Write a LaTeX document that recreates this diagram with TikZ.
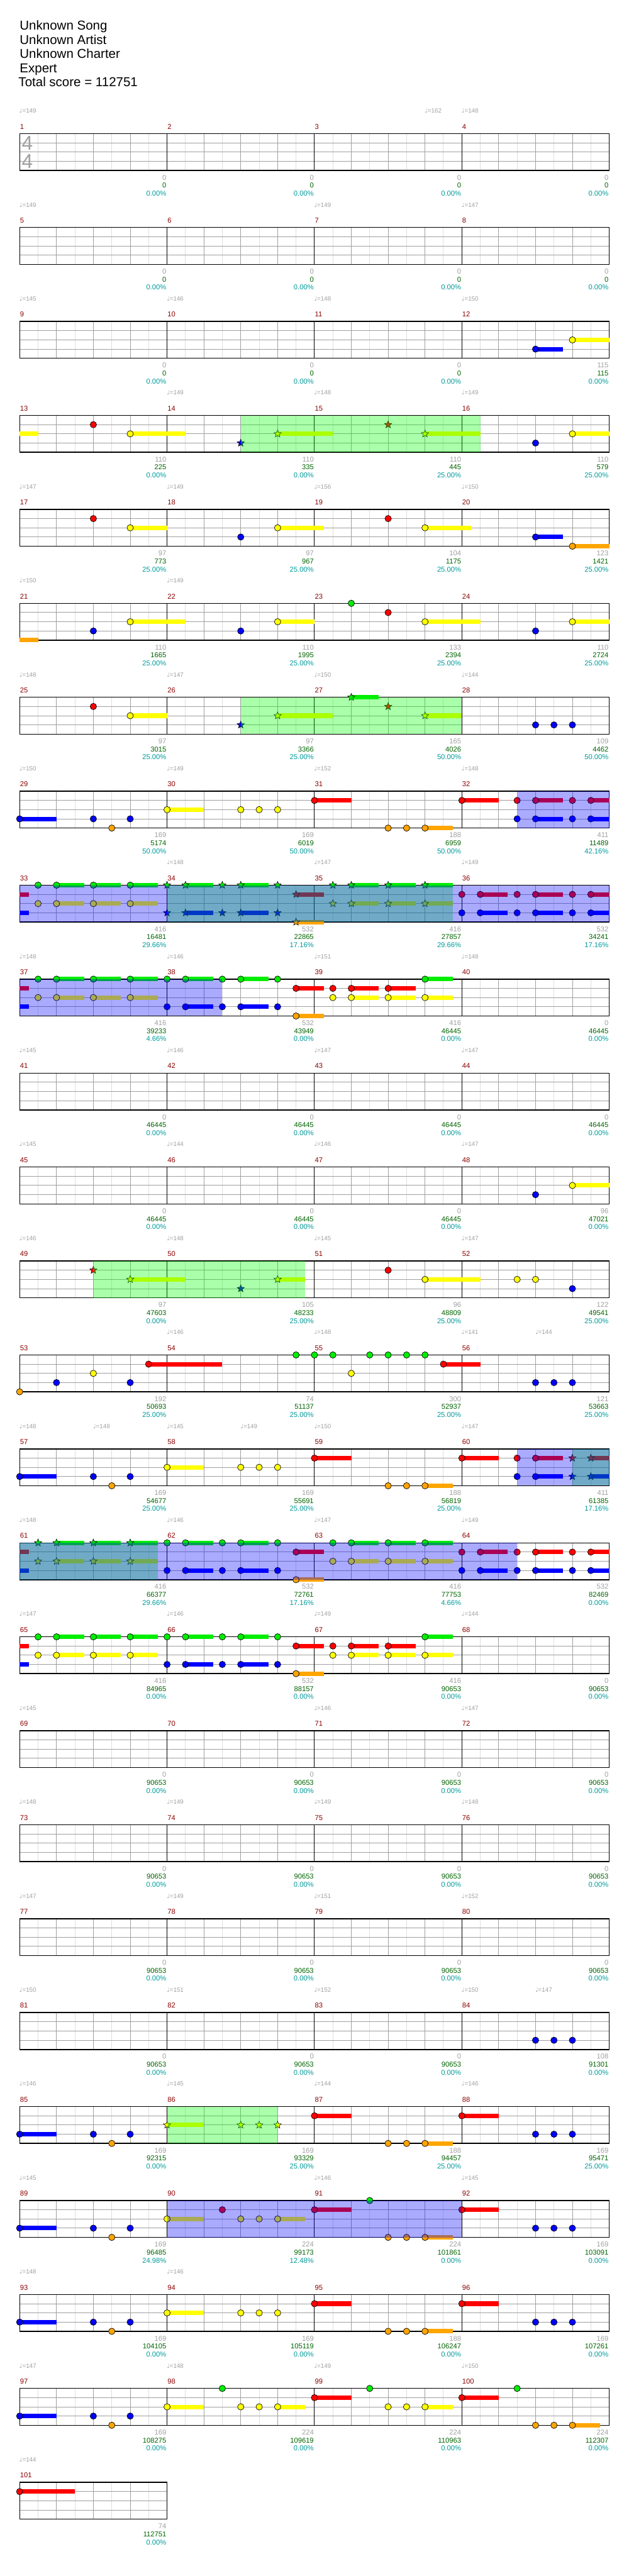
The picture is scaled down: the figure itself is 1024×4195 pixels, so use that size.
\documentclass[tikz,border=0pt]{standalone}
\usepackage{fontspec}
\setmainfont{Liberation Sans}
\newfontfamily\notefont{DejaVu Sans}
\usepackage{xcolor}
\definecolor{barred}{HTML}{8B0000}
\definecolor{basegray}{HTML}{A0A0A0}
\definecolor{totalgreen}{HTML}{006400}
\definecolor{ratioteal}{HTML}{009B9B}
\definecolor{laneline}{HTML}{A0A0A0}
\definecolor{halfline}{HTML}{DEDEDE}
\definecolor{gG}{HTML}{00EE00}
\definecolor{gR}{HTML}{FF0000}
\definecolor{gY}{HTML}{FFFF00}
\definecolor{gB}{HTML}{0000FF}
\definecolor{gO}{HTML}{FFA500}
\definecolor{spfill}{HTML}{00FF00}
\definecolor{solofill}{HTML}{0000FF}
\usepackage{tikz}
\usetikzlibrary{shapes.geometric}
\newcounter{gemno}
\newcommand{\staff}[2]{%
  \pgfmathtruncatemacro\nhalf{8*#2}%
  \pgfmathtruncatemacro\nbeat{4*#2}%
  \begin{scope}[shift={(0,{217.5+153*#1})}]
    \foreach \i in {1,...,\nhalf} \draw[halfbeat] ({32+30*\i},0) -- ++(0,60);
    \foreach \i in {1,...,\nbeat} \draw[fullbeat] ({32+60*\i},0) -- ++(0,60);
    \foreach \j in {15,30,45} \draw[fullbeat] (32,\j) -- ({32+240*#2},\j);
    \foreach \i in {1,...,#2} \draw[barline] ({32+240*\i},0) -- ++(0,60);
    \draw[staffedge] (32,0) rectangle ({32+240*#2},60);
  \end{scope}}
\newcommand{\gem}[4]{\filldraw[gem, fill=#4] ({32+60*#2},{217.5+153*#1+15*#3}) circle (5.2pt);}
\newcommand{\gems}[4]{\foreach \x in {#4}{\gem{#1}{\x}{#2}{#3}}}
\newcommand{\spgems}[4]{\foreach \x in {#4}{\stepcounter{gemno}%
  \node[stargem, fill=#3] (star\arabic{gemno}) at ({32+60*\x},{217.5+153*#1+15*#2}) {};}}
\newcommand{\tails}[4]{\foreach \from/\upto in {#4}{%
  \fill[#3] ({32+60*\from},{213.9+153*#1+15*#2}) rectangle ({32+60*\upto},{221.1+153*#1+15*#2});}}
\newcommand{\spzone}[3]{\fill[spfill, fill opacity=0.333] ({32+60*#2},{217.5+153*#1}) rectangle ({32+60*#3},{277.5+153*#1});}
\newcommand{\solozone}[3]{\fill[solofill, fill opacity=0.333] ({32+60*#2},{217.5+153*#1}) rectangle ({32+60*#3},{277.5+153*#1});}
\newcommand{\bpm}[3]{\node[tempo] (bpm#1-#2) at ({31.5+60*#2},{184+153*#1}) {{\notefont ♩}=#3};}
\newcommand{\barinfo}[5]{%
  \pgfmathtruncatemacro\barno{4*#1+#2+1}%
  \node[barnum] (bar\barno) at ({32.5+240*#2},{210+153*#1}) {\barno};
  \node[basescore] (bar\barno-base) at ({271+240*#2},{293+153*#1}) {#3};
  \node[totalscore] (bar\barno-total) at ({271+240*#2},{306+153*#1}) {#4};
  \node[spratio] (bar\barno-ratio) at ({271+240*#2},{319+153*#1}) {#5\%};}
\newcommand{\barrow}[2]{\foreach \bs/\tot/\pc [count=\s from 0] in {#2}{\barinfo{#1}{\s}{\bs}{\tot}{\pc}}}

\begin{document}
\begin{tikzpicture}[x=1pt, y=-1pt,
  halfbeat/.style={draw=halfline, line width=1pt},
  fullbeat/.style={draw=laneline, line width=1pt},
  barline/.style={draw=black, line width=0.9pt},
  staffedge/.style={draw=black, line width=1.5pt},
  gem/.style={draw=black, line width=0.7pt},
  stargem/.style={star, star points=5, star point ratio=2.3, minimum size=12.5pt, inner sep=0pt, draw=black, line width=0.6pt},
  smalltext/.style={inner sep=0pt, font=\fontsize{11.5}{13}\selectfont},
  barnum/.style={smalltext, anchor=base west, text=barred},
  basescore/.style={smalltext, anchor=base east, text=basegray},
  totalscore/.style={smalltext, anchor=base east, text=totalgreen},
  spratio/.style={smalltext, anchor=base east, text=ratioteal},
  tempo/.style={anchor=base west, inner sep=0pt, text=basegray, font=\fontsize{10}{12}\selectfont},
  header/.style={anchor=base west, inner sep=0pt, font=\fontsize{21}{24}\selectfont},
  timesig/.style={inner sep=0pt, text=basegray, font=\fontsize{32.5}{34}\selectfont}]
  \useasboundingbox[fill=white] (0,0) rectangle (1024,4195);

  \node[header] (song) at (32,49) {Unknown Song};
  \node[header] (artist) at (32,72) {Unknown Artist};
  \node[header] (charter) at (32,95) {Unknown Charter};
  \node[header] (level) at (32,118) {Expert};
  \node[header] (total) at (30,141) {Total score = 112751};

  \staff{0}{4}
  \node[timesig] (sig-top) at (44.4,233.3) {4};
  \node[timesig] (sig-bottom) at (44.4,262.3) {4};
  \bpm{0}{0}{149} \bpm{0}{11}{162} \bpm{0}{12}{148}
  \barrow{0}{0/0/0.00, 0/0/0.00, 0/0/0.00, 0/0/0.00}

  \staff{1}{4}
  \bpm{1}{0}{149} \bpm{1}{8}{149} \bpm{1}{12}{147}
  \barrow{1}{0/0/0.00, 0/0/0.00, 0/0/0.00, 0/0/0.00}

  \staff{2}{4}
  \tails{2}{2}{gY}{15/16} \tails{2}{3}{gB}{14/14.75}
  \gems{2}{2}{gY}{15} \gems{2}{3}{gB}{14}
  \bpm{2}{0}{145} \bpm{2}{4}{146} \bpm{2}{8}{148} \bpm{2}{12}{150}
  \barrow{2}{0/0/0.00, 0/0/0.00, 0/0/0.00, 115/115/0.00}

  \staff{3}{4}
  \tails{3}{2}{gY}{0/0.5, 3/4.5, 7/8.5, 11/12.5, 15/16}
  \gems{3}{1}{gR}{2} \gems{3}{2}{gY}{3,15} \gems{3}{3}{gB}{14}
  \spgems{3}{3}{gB}{6} \spgems{3}{2}{gY}{7,11} \spgems{3}{1}{gR}{10}
  \spzone{3}{6}{12.5}
  \bpm{3}{4}{149} \bpm{3}{8}{148} \bpm{3}{12}{149}
  \barrow{3}{110/225/0.00, 110/335/0.00, 110/445/25.00, 110/579/25.00}

  \staff{4}{4}
  \tails{4}{2}{gY}{3/4, 7/8.25, 11/12.25} \tails{4}{3}{gB}{14/14.75} \tails{4}{4}{gO}{15/16}
  \gems{4}{1}{gR}{2,10} \gems{4}{2}{gY}{3,7,11} \gems{4}{3}{gB}{6,14} \gems{4}{4}{gO}{15}
  \bpm{4}{0}{147} \bpm{4}{4}{149} \bpm{4}{8}{156} \bpm{4}{12}{150}
  \barrow{4}{97/773/25.00, 97/967/25.00, 104/1175/25.00, 123/1421/25.00}

  \staff{5}{4}
  \tails{5}{4}{gO}{0/0.5} \tails{5}{2}{gY}{3/4.5, 7/8, 11/12.5, 15/16}
  \gems{5}{0}{gG}{9} \gems{5}{1}{gR}{10} \gems{5}{2}{gY}{3,7,11,15} \gems{5}{3}{gB}{2,6,14}
  \bpm{5}{0}{150} \bpm{5}{4}{149}
  \barrow{5}{110/1665/25.00, 110/1995/25.00, 133/2394/25.00, 110/2724/25.00}

  \staff{6}{4}
  \tails{6}{2}{gY}{3/4, 7/8.5, 11/12} \tails{6}{0}{gG}{9/9.75}
  \gems{6}{1}{gR}{2} \gems{6}{2}{gY}{3} \gems{6}{3}{gB}{14,14.5,15}
  \spgems{6}{3}{gB}{6} \spgems{6}{2}{gY}{7,11} \spgems{6}{0}{gG}{9} \spgems{6}{1}{gR}{10}
  \spzone{6}{6}{12}
  \bpm{6}{0}{148} \bpm{6}{4}{147} \bpm{6}{8}{150} \bpm{6}{12}{144}
  \barrow{6}{97/3015/25.00, 97/3366/25.00, 165/4026/50.00, 109/4462/50.00}

  \staff{7}{4}
  \tails{7}{3}{gB}{0/1, 14/14.75, 15.5/16} \tails{7}{2}{gY}{4/5}
  \tails{7}{1}{gR}{8/9, 12/13, 14/14.75, 15.5/16} \tails{7}{4}{gO}{11/11.75}
  \gems{7}{3}{gB}{0,2,3,13.5,14,15,15.5} \gems{7}{4}{gO}{2.5,10,10.5,11}
  \gems{7}{2}{gY}{4,6,6.5,7} \gems{7}{1}{gR}{8,12,13.5,14,15,15.5}
  \solozone{7}{13.5}{16}
  \bpm{7}{0}{150} \bpm{7}{4}{149} \bpm{7}{8}{152} \bpm{7}{12}{148}
  \barrow{7}{169/5174/50.00, 169/6019/50.00, 188/6959/50.00, 411/11489/42.16}

  \staff{8}{4}
  \tails{8}{1}{gR}{0/0.25, 7.5/8.25, 12.5/13.25, 14/14.75, 15.5/16}
  \tails{8}{3}{gB}{0/0.25, 4.5/5.25, 6/6.75, 12.5/13.25, 14/14.75, 15.5/16}
  \tails{8}{0}{gG}{1/1.75, 2/2.75, 3/3.75, 4.5/5.25, 6/6.75, 9/9.75, 10/10.75, 11/11.75}
  \tails{8}{2}{gY}{1/1.75, 2/2.75, 3/3.75, 9/9.75, 10/10.75, 11/11.75}
  \tails{8}{4}{gO}{7.5/8.25}
  \gems{8}{0}{gG}{0.5,1,2,3} \gems{8}{2}{gY}{0.5,1,2,3}
  \gems{8}{1}{gR}{12,12.5,13.5,14,15,15.5} \gems{8}{3}{gB}{12,12.5,13.5,14,15,15.5}
  \spgems{8}{0}{gG}{4,4.5,5.5,6,7,8.5,9,10,11} \spgems{8}{3}{gB}{4,4.5,5.5,6,7}
  \spgems{8}{1}{gR}{7.5} \spgems{8}{4}{gO}{7.5} \spgems{8}{2}{gY}{8.5,9,10,11}
  \spzone{8}{4}{11.75} \solozone{8}{0}{16}
  \bpm{8}{4}{148} \bpm{8}{8}{147} \bpm{8}{12}{149}
  \barrow{8}{416/16481/29.66, 532/22865/17.16, 416/27857/29.66, 532/34241/17.16}

  \staff{9}{4}
  \tails{9}{1}{gR}{0/0.25, 7.5/8.25, 9/9.75, 10/10.75}
  \tails{9}{3}{gB}{0/0.25, 4.5/5.25, 6/6.75}
  \tails{9}{0}{gG}{1/1.75, 2/2.75, 3/3.75, 4.5/5.25, 6/6.75, 11/11.75}
  \tails{9}{2}{gY}{1/1.75, 2/2.75, 3/3.75, 9/9.75, 10/10.75, 11/11.75}
  \tails{9}{4}{gO}{7.5/8.25}
  \gems{9}{0}{gG}{0.5,1,2,3,4,4.5,5.5,6,7,11} \gems{9}{2}{gY}{0.5,1,2,3,8.5,9,10,11}
  \gems{9}{3}{gB}{4,4.5,5.5,6,7} \gems{9}{1}{gR}{7.5,8.5,9,10} \gems{9}{4}{gO}{7.5}
  \solozone{9}{0}{5.5}
  \bpm{9}{0}{148} \bpm{9}{4}{146} \bpm{9}{8}{151} \bpm{9}{12}{148}
  \barrow{9}{416/39233/4.66, 532/43949/0.00, 416/46445/0.00, 0/46445/0.00}

  \staff{10}{4}
  \bpm{10}{0}{145} \bpm{10}{4}{146} \bpm{10}{8}{147} \bpm{10}{12}{147}
  \barrow{10}{0/46445/0.00, 0/46445/0.00, 0/46445/0.00, 0/46445/0.00}

  \staff{11}{4}
  \tails{11}{2}{gY}{15/16}
  \gems{11}{3}{gB}{14} \gems{11}{2}{gY}{15}
  \bpm{11}{0}{145} \bpm{11}{4}{144} \bpm{11}{8}{146} \bpm{11}{12}{147}
  \barrow{11}{0/46445/0.00, 0/46445/0.00, 0/46445/0.00, 96/47021/0.00}

  \staff{12}{4}
  \tails{12}{2}{gY}{3/4.5, 7/7.75, 11/12.5}
  \spgems{12}{1}{gR}{2} \spgems{12}{2}{gY}{3,7} \spgems{12}{3}{gB}{6}
  \gems{12}{1}{gR}{10} \gems{12}{2}{gY}{11,13.5,14} \gems{12}{3}{gB}{15}
  \spzone{12}{2}{7.75}
  \bpm{12}{0}{146} \bpm{12}{4}{148} \bpm{12}{8}{145} \bpm{12}{12}{147}
  \barrow{12}{97/47603/0.00, 105/48233/25.00, 96/48809/25.00, 122/49541/25.00}

  \staff{13}{4}
  \tails{13}{1}{gR}{3.5/5.5, 11.5/12.5}
  \gems{13}{4}{gO}{0} \gems{13}{3}{gB}{1,3,14,14.5,15} \gems{13}{2}{gY}{2,9}
  \gems{13}{1}{gR}{3.5,11.5} \gems{13}{0}{gG}{7.5,8,8.5,9.5,10,10.5,11}
  \bpm{13}{4}{146} \bpm{13}{8}{148} \bpm{13}{12}{141} \bpm{13}{14}{144}
  \barrow{13}{192/50693/25.00, 74/51137/25.00, 300/52937/25.00, 121/53663/25.00}

  \staff{14}{4}
  \tails{14}{3}{gB}{0/1, 14/14.75, 15.5/16} \tails{14}{2}{gY}{4/5}
  \tails{14}{1}{gR}{8/9, 12/13, 14/14.75, 15.5/16} \tails{14}{4}{gO}{11/11.75}
  \gems{14}{3}{gB}{0,2,3,13.5,14} \gems{14}{4}{gO}{2.5,10,10.5,11}
  \gems{14}{2}{gY}{4,6,6.5,7} \gems{14}{1}{gR}{8,12,13.5,14}
  \spgems{14}{1}{gR}{15,15.5} \spgems{14}{3}{gB}{15,15.5}
  \spzone{14}{15}{16} \solozone{14}{13.5}{16}
  \bpm{14}{0}{148} \bpm{14}{2}{149} \bpm{14}{4}{145} \bpm{14}{6}{149} \bpm{14}{8}{150} \bpm{14}{12}{147}
  \barrow{14}{169/54677/25.00, 169/55691/25.00, 188/56819/25.00, 411/61385/17.16}

  \staff{15}{4}
  \tails{15}{1}{gR}{0/0.25, 7.5/8.25, 12.5/13.25, 14/14.75, 15.5/16}
  \tails{15}{3}{gB}{0/0.25, 4.5/5.25, 6/6.75, 12.5/13.25, 14/14.75, 15.5/16}
  \tails{15}{0}{gG}{1/1.75, 2/2.75, 3/3.75, 4.5/5.25, 6/6.75, 9/9.75, 10/10.75, 11/11.75}
  \tails{15}{2}{gY}{1/1.75, 2/2.75, 3/3.75, 9/9.75, 10/10.75, 11/11.75}
  \tails{15}{4}{gO}{7.5/8.25}
  \spgems{15}{0}{gG}{0.5,1,2,3} \spgems{15}{2}{gY}{0.5,1,2,3}
  \gems{15}{0}{gG}{4,4.5,5.5,6,7,8.5,9,10,11} \gems{15}{3}{gB}{4,4.5,5.5,6,7,12,12.5,13.5,14,15,15.5}
  \gems{15}{1}{gR}{7.5,12,12.5,13.5,14,15,15.5} \gems{15}{4}{gO}{7.5} \gems{15}{2}{gY}{8.5,9,10,11}
  \spzone{15}{0}{3.75} \solozone{15}{0}{13.5}
  \bpm{15}{0}{148} \bpm{15}{4}{146} \bpm{15}{8}{147} \bpm{15}{12}{149}
  \barrow{15}{416/66377/29.66, 532/72761/17.16, 416/77753/4.66, 532/82469/0.00}

  \staff{16}{4}
  \tails{16}{1}{gR}{0/0.25, 7.5/8.25, 9/9.75, 10/10.75}
  \tails{16}{3}{gB}{0/0.25, 4.5/5.25, 6/6.75}
  \tails{16}{0}{gG}{1/1.75, 2/2.75, 3/3.75, 4.5/5.25, 6/6.75, 11/11.75}
  \tails{16}{2}{gY}{1/1.75, 2/2.75, 3/3.75, 9/9.75, 10/10.75, 11/11.75}
  \tails{16}{4}{gO}{7.5/8.25}
  \gems{16}{0}{gG}{0.5,1,2,3,4,4.5,5.5,6,7,11} \gems{16}{2}{gY}{0.5,1,2,3,8.5,9,10,11}
  \gems{16}{3}{gB}{4,4.5,5.5,6,7} \gems{16}{1}{gR}{7.5,8.5,9,10} \gems{16}{4}{gO}{7.5}
  \bpm{16}{0}{147} \bpm{16}{4}{146} \bpm{16}{8}{149} \bpm{16}{12}{144}
  \barrow{16}{416/84965/0.00, 532/88157/0.00, 416/90653/0.00, 0/90653/0.00}

  \staff{17}{4}
  \bpm{17}{0}{145} \bpm{17}{8}{146} \bpm{17}{12}{147}
  \barrow{17}{0/90653/0.00, 0/90653/0.00, 0/90653/0.00, 0/90653/0.00}

  \staff{18}{4}
  \bpm{18}{0}{148} \bpm{18}{4}{149} \bpm{18}{8}{149} \bpm{18}{12}{148}
  \barrow{18}{0/90653/0.00, 0/90653/0.00, 0/90653/0.00, 0/90653/0.00}

  \staff{19}{4}
  \bpm{19}{0}{147} \bpm{19}{4}{149} \bpm{19}{8}{151} \bpm{19}{12}{152}
  \barrow{19}{0/90653/0.00, 0/90653/0.00, 0/90653/0.00, 0/90653/0.00}

  \staff{20}{4}
  \gems{20}{3}{gB}{14,14.5,15}
  \bpm{20}{0}{150} \bpm{20}{4}{151} \bpm{20}{8}{152} \bpm{20}{12}{150} \bpm{20}{14}{147}
  \barrow{20}{0/90653/0.00, 0/90653/0.00, 0/90653/0.00, 108/91301/0.00}

  \staff{21}{4}
  \tails{21}{3}{gB}{0/1} \tails{21}{2}{gY}{4/5} \tails{21}{1}{gR}{8/9, 12/13} \tails{21}{4}{gO}{11/11.75}
  \gems{21}{3}{gB}{0,2,3,14,14.5,15} \gems{21}{4}{gO}{2.5,10,10.5,11} \gems{21}{1}{gR}{8,12}
  \spgems{21}{2}{gY}{4,6,6.5,7}
  \spzone{21}{4}{7}
  \bpm{21}{0}{146} \bpm{21}{4}{145} \bpm{21}{8}{144} \bpm{21}{12}{146}
  \barrow{21}{169/92315/0.00, 169/93329/25.00, 188/94457/25.00, 169/95471/25.00}

  \staff{22}{4}
  \tails{22}{3}{gB}{0/1} \tails{22}{2}{gY}{4/5, 7/7.75} \tails{22}{1}{gR}{8/9, 12/13} \tails{22}{4}{gO}{11/11.75}
  \gems{22}{3}{gB}{0,2,3,14,14.5,15} \gems{22}{4}{gO}{2.5,10,10.5,11} \gems{22}{2}{gY}{4,6,6.5,7}
  \gems{22}{1}{gR}{5.5,8,12} \gems{22}{0}{gG}{9.5}
  \solozone{22}{4}{12}
  \bpm{22}{0}{145} \bpm{22}{8}{146} \bpm{22}{12}{145}
  \barrow{22}{169/96485/24.98, 224/99173/12.48, 224/101861/0.00, 169/103091/0.00}

  \staff{23}{4}
  \tails{23}{3}{gB}{0/1} \tails{23}{2}{gY}{4/5} \tails{23}{1}{gR}{8/9, 12/13} \tails{23}{4}{gO}{11/11.75}
  \gems{23}{3}{gB}{0,2,3,14,14.5,15} \gems{23}{4}{gO}{2.5,10,10.5,11} \gems{23}{2}{gY}{4,6,6.5,7} \gems{23}{1}{gR}{8,12}
  \bpm{23}{0}{148} \bpm{23}{4}{146}
  \barrow{23}{169/104105/0.00, 169/105119/0.00, 188/106247/0.00, 169/107261/0.00}

  \staff{24}{4}
  \tails{24}{3}{gB}{0/1} \tails{24}{2}{gY}{4/5, 7/7.75, 11/11.75} \tails{24}{1}{gR}{8/9, 12/13} \tails{24}{4}{gO}{15/15.75}
  \gems{24}{3}{gB}{0,2,3} \gems{24}{4}{gO}{2.5,14,14.5,15} \gems{24}{2}{gY}{4,6,6.5,7,10,10.5,11}
  \gems{24}{0}{gG}{5.5,9.5,13.5} \gems{24}{1}{gR}{8,12}
  \bpm{24}{0}{147} \bpm{24}{4}{148} \bpm{24}{8}{149} \bpm{24}{12}{150}
  \barrow{24}{169/108275/0.00, 224/109619/0.00, 224/110963/0.00, 224/112307/0.00}

  \staff{25}{1}
  \tails{25}{1}{gR}{0/1.5} \gems{25}{1}{gR}{0}
  \bpm{25}{0}{144}
  \barrow{25}{74/112751/0.00}
\end{tikzpicture}
\end{document}
